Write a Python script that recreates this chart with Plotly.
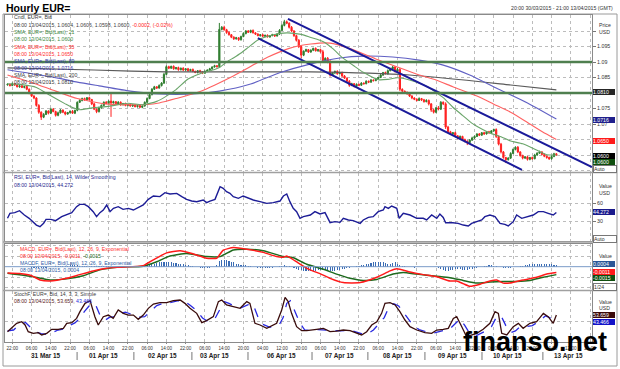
import plotly.graph_objects as go
from plotly.subplots import make_subplots

# ---------------- DATA ----------------
# hourly closes of EUR= in pips above 1.0000 (e.g. 828 -> 1.0828)
first_open_pips = 826
close_pips = [
    828, 824, 830, 826, 820, 823, 818, 821, 812, 800,
    790, 784, 760, 738, 722, 731, 742, 735, 748, 740,
    728, 736, 745, 738, 732, 737, 741, 735, 744, 770,
    776, 782, 778, 785, 779, 765, 748, 740, 752, 760,
    770, 766, 774, 768, 772, 765, 770, 762, 766, 760,
    763, 758, 761, 756, 760, 754, 758, 770, 782, 795,
    812, 820, 816, 824, 832, 860, 885, 880, 886, 878,
    882, 875, 880, 874, 878, 872, 876, 870, 866, 872,
    868, 864, 870, 874, 878, 884, 888, 885, 1005, 1012,
    1004, 995, 988, 980, 975, 978, 972, 982, 992, 1000,
    996, 1002, 994, 990, 985, 988, 983, 986, 981, 985,
    988, 984, 990, 1002, 1018, 1030, 1025, 1012, 1000, 985,
    970, 950, 922, 935, 940, 932, 938, 944, 936, 940,
    933, 905, 912, 900, 858, 865, 870, 862, 866, 855,
    848, 838, 825, 830, 822, 828, 825, 832, 830, 838,
    835, 842, 840, 846, 850, 858, 866, 862, 872, 878,
    884, 870, 876, 812, 806, 802, 798, 790, 784, 780,
    776, 782, 778, 772, 776, 765, 745, 738, 752, 748,
    770, 765, 690, 675, 668, 672, 662, 655, 660, 650,
    645, 640, 648, 655, 660, 668, 664, 672, 668, 675,
    672, 678, 682, 660, 635, 610, 592, 585, 590, 605,
    618, 625, 610, 598, 590, 594, 586, 592, 588, 600,
    606, 610, 602, 596, 592, 588, 595, 604, 600,
]
wick_up = [
    3, 2, 4, 2, 3, 2, 3, 2, 2, 3,
    2, 3, 2, 4, 3, 4, 3, 2, 4, 3,
    3, 4, 3, 2, 3, 2, 3, 4, 2, 3,
    4, 3, 3, 2, 3, 2, 3, 2, 4, 3,
    3, 4, 2, 26, 3, 2, 4, 3, 2, 3,
    2, 3, 2, 3, 2, 3, 2, 3, 4, 3,
    4, 3, 2, 4, 3, 5, 4, 3, 2, 3,
    2, 3, 2, 3, 2, 3, 2, 3, 2, 2,
    3, 2, 3, 2, 3, 2, 3, 2, 21, 4,
    5, 3, 4, 2, 3, 3, 2, 3, 4, 3,
    3, 2, 3, 2, 3, 2, 3, 2, 3, 2,
    3, 2, 3, 4, 5, 6, 4, 3, 4, 3,
    3, 4, 3, 2, 3, 2, 3, 2, 3, 2,
    3, 6, 3, 4, 6, 3, 2, 3, 2, 3,
    3, 2, 4, 3, 2, 3, 2, 3, 2, 3,
    2, 3, 2, 3, 2, 3, 2, 3, 4, 3,
    4, 3, 6, 5, 3, 2, 3, 2, 3, 2,
    3, 4, 2, 3, 4, 3, 2, 4, 3, 6,
    4, 3, 5, 4, 3, 2, 3, 2, 3, 2,
    3, 2, 3, 4, 3, 2, 3, 2, 3, 2,
    3, 2, 3, 4, 3, 4, 3, 2, 3, 4,
    3, 3, 4, 2, 3, 2, 3, 2, 3, 4,
    3, 4, 2, 3, 2, 3, 4, 3, 2,
]
wick_dn = [
    2, 3, 2, 3, 2, 3, 2, 3, 3, 4,
    3, 4, 4, 5, 9, 3, 2, 4, 3, 2,
    4, 3, 2, 3, 4, 2, 3, 2, 3, 3,
    2, 3, 3, 2, 3, 4, 3, 5, 3, 2,
    3, 2, 3, 45, 2, 3, 2, 3, 2, 3,
    3, 2, 3, 2, 3, 2, 3, 2, 3, 2,
    3, 2, 3, 2, 3, 3, 2, 3, 2, 3,
    2, 3, 2, 3, 2, 3, 2, 3, 2, 3,
    2, 3, 2, 3, 2, 3, 2, 3, 4, 3,
    3, 4, 3, 3, 4, 3, 4, 3, 2, 3,
    2, 3, 2, 3, 2, 3, 2, 3, 2, 3,
    2, 3, 2, 3, 2, 3, 3, 4, 3, 4,
    4, 5, 9, 3, 2, 3, 2, 3, 2, 3,
    3, 4, 3, 4, 5, 3, 4, 3, 2, 4,
    3, 4, 5, 3, 4, 2, 3, 2, 3, 2,
    3, 2, 3, 2, 3, 2, 3, 2, 3, 2,
    3, 4, 3, 6, 4, 3, 4, 3, 4, 3,
    3, 2, 4, 3, 2, 5, 6, 4, 3, 4,
    3, 4, 6, 4, 3, 4, 3, 4, 3, 4,
    4, 8, 3, 2, 3, 2, 3, 2, 3, 2,
    3, 2, 3, 5, 4, 5, 4, 11, 3, 3,
    2, 3, 4, 3, 4, 3, 4, 3, 3, 2,
    3, 2, 3, 3, 4, 4, 3, 2, 2,
]

# moving averages (bar index, pips above 1.0000)
sma21_bar = [0, 6, 12, 18, 24, 27, 30, 36, 42, 50, 56, 62, 66, 70, 75, 80, 86, 88, 91, 94, 97, 100, 104,
             110, 116, 122, 126, 131, 135, 139, 144, 148, 154, 158, 162, 167, 174, 181, 185, 189, 193,
             197, 201, 205, 209, 214, 220, 224, 228]
sma21_val = [830, 827, 818, 791, 765, 753, 746, 753, 757, 767, 762, 773, 790, 811, 845, 862, 876, 882, 900, 914,
             929, 947, 971, 987, 994, 989, 979, 966, 944, 915, 887, 866, 843, 844, 849, 842, 822, 785, 754,
             728, 702, 684, 669, 659, 645, 636, 615, 601, 600]
sma55_bar = [0, 10, 20, 29, 42, 58, 63, 70, 80, 94, 108, 117, 126, 134, 142, 153, 162, 171, 178, 185, 195,
             202, 209, 216, 222, 228]
sma55_val = [858, 834, 806, 782, 764, 763, 768, 782, 805, 856, 915, 944, 958, 961, 944, 910, 884, 858, 842,
             820, 790, 764, 738, 705, 676, 650]
sma89_bar = [0, 21, 29, 38, 51, 63, 77, 88, 101, 113, 126, 138, 148, 160, 171, 181, 192, 203, 216, 228]
sma89_val = [875, 848, 835, 823, 806, 797, 797, 806, 829, 865, 894, 913, 919, 916, 906, 890, 858, 816, 768, 716]
sma200_bar = [0, 36, 66, 126, 167, 209, 228]
sma200_val = [881, 874, 868, 868, 858, 826, 810]

# drawn channel and horizontal levels
chan_up_bar, chan_up_val = [116.5, 242.8], [1.1039, 1.0561]
chan_lo_bar, chan_lo_val = [104, 213.7], [1.0977, 1.0552]
levels = [1.09, 1.08]

# RSI 14
rsi_bar = [0, 1, 3, 5, 7, 9, 12, 13.5, 15, 16, 18, 20, 22.5, 24.6, 26.7, 28.7, 30, 32, 33.6, 35.6, 37, 38.4,
           39.8, 41.2, 42.6, 44, 46, 48, 50.2, 52.3, 54.3, 56.4, 58.5, 60.6, 63.3, 65.4, 67.5, 70.3, 72.4,
           74.4, 76.5, 78.6, 81.3, 82.7, 84.1, 86.2, 88.3, 89.6, 91, 92.4, 93.8, 95.9, 97.9, 100, 102.1,
           104.9, 107.7, 110.4, 113.2, 114.6, 116, 117.3, 118.7, 120.1, 121.5, 122.9, 125.8, 127.7, 129.8,
           131.9, 134, 136, 138.1, 139.5, 141.6, 143.6, 146.5, 147.8, 149.9, 151.9, 154, 156.1, 156.8,
           158.2, 159.6, 161.7, 162.7, 164.4, 167.2, 170, 172.7, 174.1, 176.2, 178.3, 179.6, 181, 182,
           185, 187.2, 189.3, 191.4, 192.8, 194.9, 197, 198.3, 200.4, 202.5, 204.6, 206.6, 208, 210.1,
           211.5, 213.6, 215.7, 218.4, 220.5, 222.6, 224.6, 226.7, 228]
rsi_val = [34.5, 42.8, 43.9, 47.2, 40, 34.5, 23.3, 20.6, 26.1, 32.8, 32.8, 30.6, 37.2, 40, 43.9, 53.9, 57.8,
           57.8, 53.9, 45.6, 37.2, 43.9, 48.3, 56.7, 45.6, 51.1, 53.9, 49.4, 51.1, 48.3, 52.8, 56.7, 66.1,
           71.7, 70.6, 77.2, 75, 76.1, 70.6, 66.1, 63.3, 62.2, 65, 60.6, 63.3, 66.1, 87.2, 84.4, 78.9, 76.1,
           70.6, 67.8, 71.7, 67.8, 65, 62.2, 59.4, 60.6, 63.3, 71.7, 75, 62.2, 51.1, 45.6, 34.5, 37.2, 40,
           45.6, 41.7, 43.9, 27.2, 28.9, 27.8, 34.5, 31.7, 30.6, 26.1, 31.7, 36.1, 37.2, 45.6, 48.3, 53.9,
           51.1, 55, 51.1, 34.5, 42.8, 40, 34.5, 34.5, 31.7, 40, 34.5, 41.7, 36, 27, 27, 26.1, 23.3, 21.7,
           26.1, 28.9, 31.7, 37.2, 40, 37.2, 26.1, 24.4, 21.7, 28.9, 40, 34.5, 37.2, 40, 45.6, 45.6, 42.8,
           40, 44.272]

# MACD (12,26,9) in units of 0.0001
macd_bar = [0, 5, 10, 13.5, 17.7, 24.6, 30, 35.6, 41.2, 46.7, 56.4, 60.6, 66.1, 71.7, 77.2, 82.7, 86.9, 89.6,
            93.8, 99.4, 106.3, 111.8, 114.6, 116, 117.3, 121.5, 125.7, 129.8, 134, 139.5, 146.5, 153.4,
            158.9, 161.7, 167.2, 172.7, 178.3, 183.8, 186.6, 189.3, 192.1, 196.3, 200.4, 203.2, 205.9,
            208.7, 214.2, 219.8, 224, 228]
macd_val = [-12, -13, -17, -25, -27, -22, -15, -8, -3, -1, 2, 13, 26, 30, 24, 16, 16, 31, 36, 33, 27, 19, 18,
            20, 17, 5, -6, -13, -22, -30, -30, -20, -8, -4, -10, -15, -19, -27, -27, -32, -37, -33, -27,
            -25, -31, -31, -25, -20, -14, -11]
sig_bar = [0, 10.7, 17.7, 24.6, 31.5, 38.4, 45.4, 56.4, 62, 67.5, 74.4, 82.7, 88.3, 93.8, 99.4, 106.3, 114.6,
           118.7, 124.3, 131.2, 136.7, 142.3, 147.8, 153.4, 160.2, 164.4, 170, 178.3, 183.8, 189.3, 194.9,
           200.4, 205.9, 211.5, 217, 222.6, 228]
sig_val = [-12.5, -19, -25, -23, -17, -6, -1, 1, 9.4, 20, 25, 19, 19, 31.5, 33, 30, 19, 17, 4.5, -5, -14, -22,
           -26, -24, -14, -11, -14, -18, -20.7, -26, -31, -29, -28, -28, -26, -20, -15]
hist_val = [
    0, 0, 0, 0, -1, -1, -1, -1, -1, -1,
    -2, -2, -3, -3, -3, -2, -2, -1, -1, 0,
    1, 1, 2, 2, 2, 2, 3, 3, 3, 3,
    2, 2, 2, 2, 2, 2, 2, 1, 1, 1,
    1, 1, 1, 0, 0, 0, 0, 0, 0, 0,
    0, 0, 0, 0, 0, 1, 1, 2, 3, 4,
    5, 6, 7, 8, 8, 9, 9, 8, 8, 7,
    7, 6, 5, 5, 4, 3, 2, 1, 0, -1,
    -2, -2, -3, -3, -2, -1, 0, 4, 10, 12,
    13, 12, 11, 9, 8, 6, 5, 4, 3, 3,
    2, 1, 0, -1, -2, -2, -3, -3, -3, -2,
    -2, -1, 0, 1, 2, 3, 2, 1, 0, -2,
    -4, -6, -7, -8, -9, -9, -9, -8, -8, -7,
    -7, -6, -6, -7, -8, -9, -8, -7, -6, -5,
    -4, -3, -2, -1, 0, 1, 2, 3, 4, 5,
    6, 7, 8, 9, 9, 8, 8, 7, 6, 6,
    7, 8, 6, 4, 2, 1, 0, -1, -1, -2,
    -1, -1, 0, 0, -1, -1, 0, 0, -1, -2,
    -4, -6, -8, -8, -7, -6, -5, -4, -5, -6,
    -7, -6, -5, -4, -3, -2, -1, 0, 1, 2,
    3, 3, 2, 1, 0, -1, -2, -3, -3, -2,
    -1, -1, 0, 1, 2, 3, 4, 5, 5, 6,
    6, 5, 5, 6, 6, 5, 5, 4, 4,
]

# Stochastic fast (14,3,3)
k_bar = [0, 1.7, 3.8, 5.9, 7.3, 8.6, 10.7, 12.8, 14.2, 16.3, 18.4, 21.1, 23.2, 24.6, 26.7, 28.7, 30.1, 32.2,
         34.3, 36.3, 37.7, 39.8, 41.9, 43.9, 46, 48.1, 50.2, 52.3, 54.3, 56.4, 58.5, 60.6, 63.3, 66.1, 68.9,
         71.7, 73.7, 75.8, 78.6, 80.7, 82.7, 85.5, 87.6, 89, 91, 93.8, 96.6, 99.4, 100.7, 102.8, 104.9,
         107.7, 109.7, 111.8, 113.9, 115.3, 116.6, 118, 120.1, 122.2, 124.3, 125.7, 128.4, 131.2, 134,
         136.7, 139.5, 142.3, 145, 147.1, 149.2, 151.3, 153.4, 155.4, 156.8, 158.9, 161, 163, 165.1, 167.2,
         170, 173.4, 176.2, 178.3, 181, 183.1, 185.2, 186.6, 188.7, 190.7, 194.9, 197.6, 200.4, 202.5,
         203.9, 205.3, 207.4, 210.1, 212.2, 214.2, 217, 219.8, 222.6, 224.6, 226.7, 228]
k_val = [16.2, 23.8, 35, 38.7, 31.3, 16.2, 12.5, 14, 8.8, 12.5, 21.5, 21.5, 23.8, 35, 36.5, 46.2, 61.3, 80, 86,
         50, 31.3, 50, 53.7, 46.2, 65, 57.5, 53.7, 53.7, 44, 53.7, 68.8, 78.5, 81.5, 81.5, 86, 87.5, 80,
         68.8, 57.5, 36.5, 41, 50, 83.8, 87.5, 76.3, 72.5, 68.8, 83.8, 80, 35, 31.3, 23.8, 29, 35, 65, 93.5,
         83.8, 57.5, 27.5, 18.5, 18.5, 20, 21.5, 23.8, 16.2, 17.7, 20, 18.5, 12.5, 8.8, 16.2, 31.3, 38.7,
         57.5, 80, 81.5, 76.3, 61.3, 42.5, 27.5, 20, 14, 12.5, 20, 21.5, 23.8, 46.2, 50, 27.5, 5, 12.5,
         21.5, 35, 61.3, 57.5, 12.5, 8.8, 27.5, 35, 23.8, 35, 38.7, 57.5, 50, 35, 53.659]
d_bar = [0, 2.5, 5, 7.5, 9.5, 12, 14, 16, 18.5, 21, 24, 26, 28, 30, 32, 34.5, 36.5, 38.5, 40.5, 42.5, 45, 47,
         49, 52, 55, 57, 59.5, 62, 65, 68, 71, 73.5, 76, 78.5, 81, 83, 86, 88.5, 90, 92, 94.5, 97, 100, 102,
         104, 106, 109, 111, 113, 114.5, 116, 117.5, 119.5, 121.5, 123.5, 126, 129, 132, 135, 138, 141,
         144, 147, 149.5, 152, 154, 156.5, 158.5, 160.5, 162.5, 164.5, 166.5, 168.5, 171, 174, 177, 179.5,
         182, 184, 186.5, 188, 190, 192, 195, 198, 201, 203, 205, 207, 209, 211, 213, 215.5, 218, 221,
         223.5, 226, 228]
d_val = [18, 20, 32, 37, 26, 15, 12, 10, 14, 20, 23, 31, 36, 46, 62, 78, 78, 52, 42, 49, 50, 58, 60, 55, 49,
         50, 62, 75, 81, 82, 86, 85, 75, 64, 47, 40, 44, 70, 84, 80, 73, 70, 77, 78, 50, 33, 26, 29, 33, 48,
         80, 86, 60, 35, 20, 19, 21, 20, 19, 18, 19, 17, 12, 11, 20, 32, 48, 72, 79, 74, 60, 45, 30, 21, 16,
         13, 16, 20, 24, 38, 45, 30, 12, 8, 16, 27, 48, 52, 30, 14, 18, 28, 28, 30, 40, 52, 46, 43.466]

# x axis labels
tick_labels = ["22:00", "06:00", "14:00", "22:00", "06:00", "14:00", "22:00", "06:00", "14:00", "22:00",
               "06:00", "14:00", "20:00", "04:00", "12:00", "20:00", "06:00", "14:00", "22:00", "06:00",
               "14:00", "22:00", "06:00", "14:00", "22:00", "06:00", "14:00", "20:00", "04:00", "12:00",
               "20:00"]
day_labels = ["31 Mar 15", "01 Apr 15", "02 Apr 15", "03 Apr 15", "06 Apr 15", "07 Apr 15", "08 Apr 15",
              "09 Apr 15", "10 Apr 15", "13 Apr 15"]
day_centers = [16, 40, 64.5, 86, 114, 138, 162, 185, 207.5, 233]
day_breaks = [28.9, 52.5, 76.6, 99.9, 126.5, 149.7, 173.4, 197.1, 222.4]

# ---------------- GEOMETRY / STYLE ----------------
W, H = 620, 369
ML, MR, MT, MB = 5, 28, 15, 27
PW, PH = W - ML - MR, H - MT - MB
FONT = "Liberation Sans, Arial, sans-serif"


def fx(xp):
    return (xp - ML) / PW


def fy(yp):
    return (H - MB - yp) / PH


UP, DN = "#2f7d2f", "#ff2020"
C21, C55, C89, C200 = "#6aa56a", "#ff6262", "#6060c4", "#5a5a5a"
NAVY = "#1a1a9a"
GRID = "#bcbcbc"

n = min(len(close_pips), len(wick_up), len(wick_dn))
bars = list(range(n))
cl = [1 + close_pips[i] / 1e4 for i in range(n)]
op = [1 + (first_open_pips if i == 0 else close_pips[i - 1]) / 1e4 for i in range(n)]
hi = [max(op[i], cl[i]) + wick_up[i] / 1e4 for i in range(n)]
lo = [min(op[i], cl[i]) - wick_dn[i] / 1e4 for i in range(n)]


def pr(vals):
    return [1 + v / 1e4 for v in vals]


def m4(vals):
    return [v / 1e4 for v in vals]


fig = make_subplots(rows=4, cols=1, shared_xaxes=True, vertical_spacing=0.01)

# --- main panel ---
fig.add_trace(go.Candlestick(x=bars, open=op, high=hi, low=lo, close=cl,
                             increasing=dict(line=dict(color=UP, width=1), fillcolor=UP),
                             decreasing=dict(line=dict(color=DN, width=1), fillcolor=DN),
                             whiskerwidth=0, showlegend=False), row=1, col=1)
for b, v, c in [(sma200_bar, sma200_val, C200), (sma89_bar, sma89_val, C89),
                (sma55_bar, sma55_val, C55), (sma21_bar, sma21_val, C21)]:
    fig.add_trace(go.Scatter(x=b, y=pr(v), mode="lines", line=dict(color=c, width=1.1, shape="spline",
                                                                  smoothing=0.6),
                             showlegend=False, hoverinfo="skip"), row=1, col=1)
for b, v in [(chan_up_bar, chan_up_val), (chan_lo_bar, chan_lo_val)]:
    fig.add_trace(go.Scatter(x=b, y=v, mode="lines", line=dict(color=NAVY, width=2),
                             showlegend=False, hoverinfo="skip"), row=1, col=1)
for lv in levels:
    fig.add_hline(y=lv, line=dict(color="#4f7f4f", width=2.6), row=1, col=1)

# --- RSI ---
fig.add_hline(y=70, line=dict(color="#7a7ac8", width=1.4), row=2, col=1)
fig.add_hline(y=30, line=dict(color="#7a7ac8", width=1.4), row=2, col=1)
fig.add_trace(go.Scatter(x=rsi_bar, y=rsi_val, mode="lines", line=dict(color="#1c1c96", width=1.4),
                         showlegend=False, hoverinfo="skip"), row=2, col=1)

# --- MACD ---
fig.add_trace(go.Bar(x=list(range(len(hist_val))), y=m4(hist_val), marker=dict(color="#3a6cb4", line_width=0),
                     width=0.45, showlegend=False, hoverinfo="skip"), row=3, col=1)
fig.add_hline(y=0, line=dict(color="#7a9bc8", width=1), row=3, col=1)
fig.add_trace(go.Scatter(x=sig_bar, y=m4(sig_val), mode="lines",
                         line=dict(color="#1e6a1e", width=1.5, shape="spline", smoothing=0.5),
                         showlegend=False, hoverinfo="skip"), row=3, col=1)
fig.add_trace(go.Scatter(x=macd_bar, y=m4(macd_val), mode="lines",
                         line=dict(color="#ff1a1a", width=1.5, shape="spline", smoothing=0.5),
                         showlegend=False, hoverinfo="skip"), row=3, col=1)

# --- Stochastic ---
fig.add_hline(y=80, line=dict(color="#9a7070", width=1.3), row=4, col=1)
fig.add_hline(y=20, line=dict(color="#9a7070", width=1.3), row=4, col=1)
fig.add_trace(go.Scatter(x=d_bar, y=d_val, mode="lines", line=dict(color="#2a2ae0", width=1.3, dash="dash"),
                         showlegend=False, hoverinfo="skip"), row=4, col=1)
fig.add_trace(go.Scatter(x=k_bar, y=k_val, mode="lines", line=dict(color="#3a0c0c", width=1.3),
                         showlegend=False, hoverinfo="skip"), row=4, col=1)

# ---------------- AXES ----------------
tickvals = [2 + 8 * k for k in range(len(tick_labels))]
xr = [-1.04, 242.8]
for i in range(1, 5):
    fig.update_xaxes(row=i, col=1, range=xr, tickvals=tickvals, ticktext=tick_labels, showgrid=True,
                     gridcolor=GRID, griddash="dot", gridwidth=1, showline=True, linecolor="#8a8a8a",
                     mirror=True, rangeslider_visible=False, zeroline=False,
                     showticklabels=(i == 4), ticks="outside" if i == 4 else "", ticklen=1,
                     tickcolor="#888", tickfont=dict(size=4.6, color="#333", family=FONT))

yax = dict(side="right", showgrid=True, gridcolor=GRID, griddash="dot", gridwidth=1, showline=True,
           linecolor="#8a8a8a", mirror=True, zeroline=False, ticks="outside", ticklen=3, tickcolor="#777",
           tickfont=dict(size=5.3, color="#333", family=FONT))
fig.update_layout(
    yaxis=dict(yax, domain=[fy(172), fy(15)], range=[1.05452, 1.10516],
               tickvals=[1.055, 1.06, 1.065, 1.07, 1.075, 1.08, 1.085, 1.09, 1.095, 1.10],
               ticktext=["", "", "", "1.07", "1.075", "", "1.085", "1.09", "1.095", ""]),
    yaxis2=dict(yax, domain=[fy(241), fy(173)], range=[-3.3, 110], tickvals=[30, 60], ticktext=["30", "60"]),
    yaxis3=dict(yax, domain=[fy(290), fy(244)], range=[-0.0044, 0.00428],
                tickvals=[-0.004, -0.002, 0.002, 0.004], showticklabels=False, ticks=""),
    yaxis4=dict(yax, domain=[fy(342), fy(291)], range=[-7, 107.8], tickvals=[40],
                showticklabels=False, ticks=""),
)

# ---------------- TEXT ----------------
ann = []


def txt(xp, yp, text, color="#404040", size=5.2, xanchor="left"):
    ann.append(dict(x=fx(xp), y=fy(yp), xref="paper", yref="paper", text=text, showarrow=False,
                    xanchor=xanchor, yanchor="middle", font=dict(size=size, color=color, family=FONT)))


def box(yp, text, bg, fg="white", border=None):
    ann.append(dict(x=fx(592.5), y=fy(yp), xref="paper", yref="paper", text=text, showarrow=False,
                    xanchor="left", yanchor="middle", align="left", width=22, height=6, bgcolor=bg,
                    bordercolor=border or bg, borderwidth=1 if border else 0, borderpad=0,
                    font=dict(size=5.2, color=fg, family=FONT)))


txt(4, 8, "<b>Hourly EUR=</b>", "#000", size=10.5)
txt(615, 8, "20:00 30/03/2015 - 21:00 13/04/2015 (GMT)", "#333", xanchor="right")

GRN_T, RED_T, BLU_T = "#3f8a3f", "#ff3030", "#3535aa"
txt(12, 17.3, "Cndl, EUR=, Bid")
txt(12, 24.7, '08:00 13/04/2015, 1.0604, 1.0606, 1.0598, 1.0600, '
              '<span style="color:#ff2020">-0.0002, (-0.02%)</span>')
txt(12, 32.3, "SMA, EUR=, Bid(Last), 21", GRN_T)
txt(12, 39.3, "08:00 13/04/2015, 1.0600", GRN_T)
txt(12, 46.7, "SMA, EUR=, Bid(Last), 55", RED_T)
txt(12, 54.0, "08:00 13/04/2015, 1.0650", RED_T)
txt(12, 61.3, "SMA, EUR=, Bid(Last), 89", BLU_T)
txt(12, 68.3, "08:00 13/04/2015, 1.0716", BLU_T)
txt(12, 75.3, "SMA, EUR=, Bid(Last), 200", "#404040")
txt(12, 82.3, "08:00 13/04/2015, 1.0810", "#404040")

txt(12, 176.7, "RSI, EUR=, Bid(Last), 14, Wilder Smoothing", "#2a2a90")
txt(12, 184.7, "08:00 13/04/2015, 44.272", "#2a2a90")

txt(18, 249.0, "MACD, EUR=, Bid(Last), 12, 26, 9, Exponential", RED_T)
txt(18, 256.3, '08:00 13/04/2015, -0.0011, <span style="color:#1e6a1e">-0.0015</span>', RED_T)
txt(18, 262.7, "MACDF, EUR=, Bid(Last), 12, 26, 9, Exponential", "#3060a8")
txt(18, 270.0, "08:00 13/04/2015, 0.0004", "#3060a8")

txt(12, 294.0, "StochF, EUR=, Bid, 14, 3, 3, Simple", "#404040")
txt(12, 301.0, '08:00 13/04/2015, 53.659, <span style="color:#2a2ae0">43.466</span>', "#5a1a1a")

# right-hand labels
for yp, t in [(25, "Price"), (32, "USD"), (186, "Value"), (193, "USD"), (256, "Value"),
              (301.7, "Value"), (308.3, "USD")]:
    txt(597, yp, t, "#333")

box(91.5, "1.0810", "#262626")
box(120, "1.0716", "#1f1f8c")
box(140.5, "1.0650", "#ff1a1a")
box(155.5, "1.0600", "#000000")
box(161.8, "1.0600", "#0f4f0f")
box(169, "Auto", "white", "#333", "#777")
box(212.4, "44.272", "#1a1a8c")
box(239, "Auto", "white", "#333", "#777")
box(264, "0.0004", "#2b5797")
box(271.7, "-0.0011", "#ff1a1a")
box(277.7, "-0.0015", "#0f4f0f")
box(287, "1/24", "white", "#333", "#777")
box(315, "53.659", "#3b0a0a")
box(321.5, "43.466", "#1212c8")

# day labels on the time axis
for c, t in zip(day_centers, day_labels):
    ann.append(dict(x=c, y=fy(355.7), xref="x", yref="paper", text="<b>" + t + "</b>", showarrow=False,
                    xanchor="center", yanchor="middle", font=dict(size=6.4, color="#222", family=FONT)))

# watermark
ann.append(dict(x=fx(535), y=fy(342), xref="paper", yref="paper", text="<b>finanso.net</b>", showarrow=False,
                xanchor="center", yanchor="middle", font=dict(size=27, color="#000", family=FONT)))

# ---------------- FRAME SHAPES ----------------
shapes = [dict(type="rect", xref="paper", yref="paper", x0=fx(3), x1=fx(617), y0=fy(366), y1=fy(14),
               line=dict(color="#9a9a9a", width=1), layer="below")]
for yp in [172.5, 242, 290.5]:
    shapes.append(dict(type="line", xref="paper", yref="paper", x0=fx(3), x1=fx(617), y0=fy(yp), y1=fy(yp),
                       line=dict(color="#a0a0a0", width=1.5)))
for b in day_breaks:
    shapes.append(dict(type="line", xref="x", yref="paper", x0=b, x1=b, y0=fy(352), y1=fy(360),
                       line=dict(color="#777", width=1)))

fig.update_layout(width=W, height=H, autosize=False, margin=dict(l=ML, r=MR, t=MT, b=MB),
                  paper_bgcolor="white", plot_bgcolor="white", showlegend=False, bargap=0,
                  annotations=list(fig.layout.annotations) + ann,
                  shapes=list(fig.layout.shapes) + shapes,
                  font=dict(family=FONT, size=6))

fig.write_html("out.html", config={"displayModeBar": False, "staticPlot": True},
               post_script="document.body.style.margin='0';document.body.style.overflow='hidden';")
